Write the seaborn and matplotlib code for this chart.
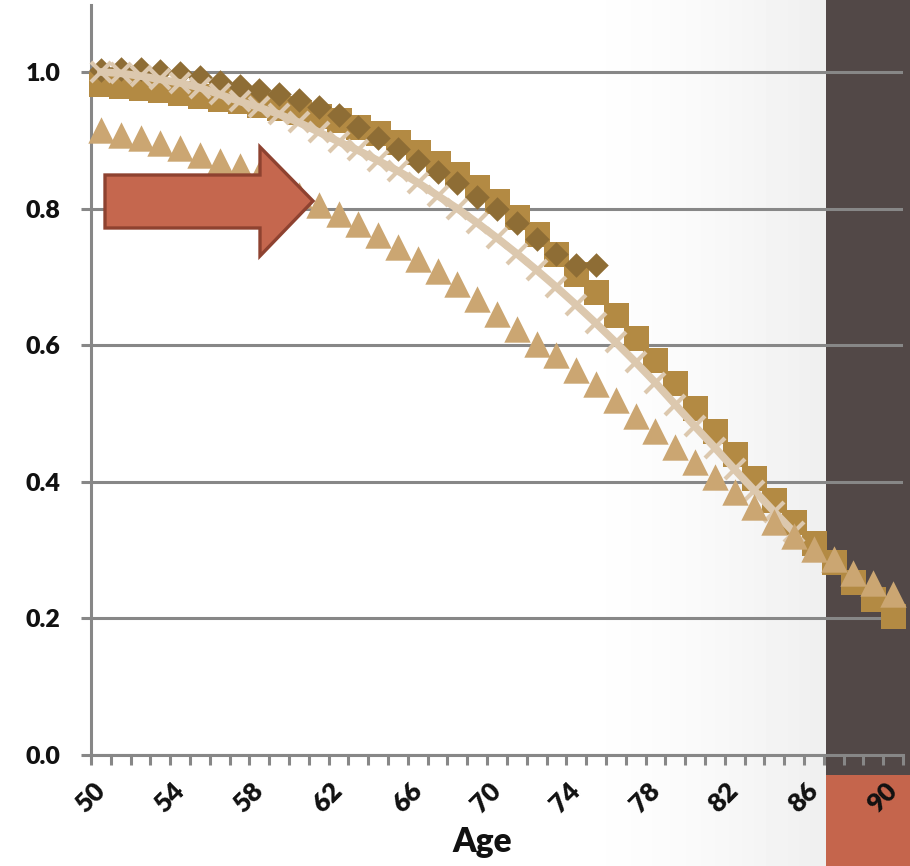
import numpy as np
import pandas as pd
import matplotlib
matplotlib.use("Agg")
import matplotlib.pyplot as plt
import seaborn as sns
from matplotlib.patches import Polygon, Rectangle
from matplotlib.ticker import FixedLocator

# ---------------- data ----------------
ages_sq = list(range(50, 91))
sq_vals = [0.983, 0.980, 0.977, 0.973, 0.969, 0.965, 0.961, 0.957, 0.952, 0.947,
           0.942, 0.936, 0.929, 0.920, 0.911, 0.897, 0.883, 0.866, 0.850, 0.832,
           0.811, 0.788, 0.763, 0.733, 0.704, 0.678, 0.644, 0.611, 0.578, 0.544,
           0.508, 0.474, 0.441, 0.406, 0.373, 0.341, 0.310, 0.283, 0.253, 0.229, 0.204]

ages_dm = list(range(50, 76))
dm_vals = [1.003, 1.005, 1.004, 1.002, 0.998, 0.992, 0.986, 0.980, 0.974, 0.967,
           0.959, 0.949, 0.937, 0.920, 0.903, 0.887, 0.870, 0.854, 0.838, 0.817,
           0.799, 0.779, 0.756, 0.734, 0.717, 0.717]

ages_x = list(range(50, 86))
x_vals = [1.000, 0.998, 0.994, 0.989, 0.984, 0.977, 0.967, 0.957, 0.948, 0.938,
          0.926, 0.912, 0.898, 0.885, 0.870, 0.855, 0.838, 0.819, 0.800, 0.779,
          0.757, 0.734, 0.710, 0.685, 0.659, 0.632, 0.604, 0.575, 0.545, 0.513,
          0.481, 0.450, 0.418, 0.387, 0.356, 0.326]

ages_tri = list(range(50, 91))
tri_vals = [0.915, 0.908, 0.903, 0.896, 0.889, 0.879, 0.870, 0.862, 0.850, 0.836,
            0.820, 0.805, 0.792, 0.778, 0.761, 0.744, 0.726, 0.708, 0.690, 0.668,
            0.646, 0.624, 0.602, 0.586, 0.564, 0.543, 0.520, 0.497, 0.475, 0.451,
            0.429, 0.407, 0.385, 0.363, 0.341, 0.321, 0.302, 0.287, 0.266, 0.252, 0.236]

x_tick_vals = [50, 54, 58, 62, 66, 70, 74, 78, 82, 86, 90]
y_tick_vals = [0.0, 0.2, 0.4, 0.6, 0.8, 1.0]
y_tick_labels = ["0.0", "0.2", "0.4", "0.6", "0.8", "1.0"]
x_label = "Age"

# ---------------- style ----------------
sns.set_theme(style="white")
plt.rcParams["font.family"] = ["Lato", "DejaVu Sans"]

W, H = 910, 866
fig = plt.figure(figsize=(W / 100, H / 100), dpi=100)

# background (slide) layer
bg = fig.add_axes([0, 0, 1, 1], zorder=-10)
xs = np.arange(W)
t = np.clip((xs - 560) / (826 - 560), 0, 1)
vals = 1 - 0.065 * t ** 1.6
grad = np.tile(vals, (H, 1))
bg.imshow(grad, cmap="gray", vmin=0, vmax=1, extent=(0, W, H, 0), aspect="auto")
bg.add_patch(Rectangle((826, 0), 84, 775, color="#524847", lw=0))
bg.add_patch(Rectangle((826, 775), 84, 91, color="#C5654C", lw=0))
bg.set_xlim(0, W)
bg.set_ylim(H, 0)
bg.axis("off")

# main axes
ax = fig.add_axes([91 / W, 1 - 755 / H, (903 - 91) / W, 750 / H])
ax.patch.set_alpha(0)
ax.set_xlim(49.5, 90.5)
ax.set_ylim(0, 1.098)

gray = "#878787"
for s in ["top", "right"]:
    ax.spines[s].set_visible(False)
for s in ["left", "bottom"]:
    ax.spines[s].set_color(gray)
    ax.spines[s].set_linewidth(2.2)

ax.set_axisbelow(True)
ax.yaxis.grid(True, color=gray, lw=2.2)
ax.xaxis.grid(False)

df_sq = pd.DataFrame({"Age": ages_sq, "v": sq_vals})
df_dm = pd.DataFrame({"Age": ages_dm, "v": dm_vals})
df_x = pd.DataFrame({"Age": ages_x, "v": x_vals})
df_tri = pd.DataFrame({"Age": ages_tri, "v": tri_vals})

sns.scatterplot(data=df_sq, x="Age", y="v", marker="s", s=18 ** 2, color="#B38A43",
                linewidth=0, ax=ax, zorder=3, clip_on=False)
sns.scatterplot(data=df_dm, x="Age", y="v", marker="D", s=12.5 ** 2, color="#8E6D35",
                linewidth=0, ax=ax, zorder=4, clip_on=False)
sns.lineplot(data=df_x, x="Age", y="v", color="#DCC8AE", lw=5.5, marker="x",
             markersize=15, markeredgewidth=3, markeredgecolor="#DCC8AE",
             ax=ax, zorder=5, clip_on=False)
sns.scatterplot(data=df_tri, x="Age", y="v", marker="^", s=19 ** 2, color="#CBA672",
                linewidth=0, ax=ax, zorder=6, clip_on=False)

# ticks
ax.set_xticks(x_tick_vals)
ax.set_xticklabels([str(a) for a in x_tick_vals], rotation=45, ha="right", va="center",
                   rotation_mode="anchor", fontweight="heavy", color="#111111")
ax.xaxis.set_minor_locator(FixedLocator(np.arange(49.5, 91, 1.0)))
ax.tick_params(axis="x", which="major", length=0, pad=23, labelsize=19, bottom=True)
ax.tick_params(axis="x", which="minor", length=7.2, width=2.2, color=gray,
               direction="out", bottom=True)
ax.set_yticks(y_tick_vals)
ax.set_yticklabels(y_tick_labels, fontweight="heavy", color="#111111")
ax.tick_params(axis="y", which="major", length=7.2, width=2.2, color=gray,
               direction="out", pad=15, labelsize=18, left=True)

ax.set_ylabel("")
ax.set_xlabel(x_label, fontsize=24, fontweight="heavy", color="#111111")
ax.xaxis.set_label_coords((482 - 91) / 812, -(826 - 755) / 750)

# block arrow annotation
pts = [(105, 175), (260, 175), (260, 147), (313, 201), (260, 256), (260, 228), (105, 228)]
pts_f = [(x / W, 1 - y / H) for x, y in pts]
fig.add_artist(Polygon(pts_f, closed=True, transform=fig.transFigure,
                       facecolor="#C5674E", edgecolor="#8E4230", lw=2.4, zorder=10))

fig.savefig("out.png", dpi=100)
